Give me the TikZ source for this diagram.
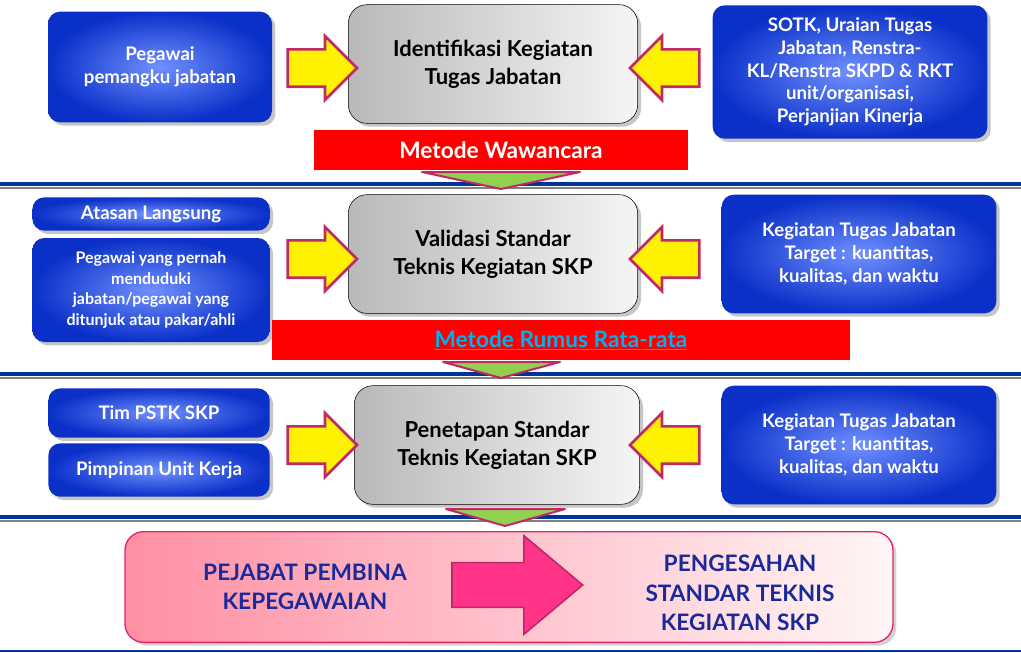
\documentclass[tikz,border=0pt]{standalone}
\usepackage{fontspec}
\setmainfont{Lato}
\usetikzlibrary{shapes.arrows,shadows}
\definecolor{bluedark}{HTML}{0A30C8}
\definecolor{bluelight}{HTML}{7090FF}
\definecolor{arrowrim}{HTML}{C02868}
\definecolor{lineblue}{HTML}{003399}
\definecolor{pinkrim}{HTML}{E8206B}
\definecolor{pinkfill}{HTML}{FF3388}
\definecolor{pinkleft}{HTML}{FF8FA3}
\definecolor{navytext}{HTML}{1A2A9A}
\definecolor{greentri}{HTML}{92D050}
\definecolor{linkcyan}{HTML}{00B0F0}
\tikzset{
  bluebox/.style={shading=radial, inner color=bluelight, outer color=bluedark, rounded corners=9pt,
    drop shadow={opacity=0.45}, text=white, font=\bfseries\fontsize{14}{17}\selectfont, align=center, inner sep=0pt},
  graybox/.style={draw=black, left color=gray!55, right color=gray!8, rounded corners=14pt,
    drop shadow={opacity=0.45}, font=\bfseries\fontsize{16.5}{21}\selectfont, align=center, inner sep=0pt},
  yarrow/.style={single arrow, fill=yellow, draw=arrowrim, line width=2pt, minimum height=52pt,
    minimum width=47pt, single arrow head extend=10pt, single arrow tip angle=90, inner xsep=0pt, inner ysep=13pt},
  redbar/.style={fill=red, text=white, font=\bfseries\fontsize{17}{20}\selectfont, inner sep=0pt},
  sepline/.style={lineblue, line width=2.5pt},
}
\begin{document}
\begin{tikzpicture}[x=0.75pt, y=-0.75pt]
  \useasboundingbox (0,0) rectangle (1021,653);

  % separators
  \foreach \yy in {184,374,517} {
    \draw[sepline] (0,\yy) -- (1021,\yy);
    \draw[gray, line width=1.2pt] (0,\yy+4) -- (1021,\yy+4);
  }
  \draw[sepline, line width=1.5pt] (0,651) -- (1021,651);

  % row 1
  \node[bluebox, minimum width=168pt, minimum height=83pt] (peg) at (160,67) {Pegawai\\pemangku jabatan};
  \node[graybox, minimum width=217pt, minimum height=89pt] (idk) at (493,64) {Identifikasi Kegiatan\\Tugas Jabatan};
  \node[bluebox, minimum width=206pt, minimum height=100pt] (sotk) at (850,72)
    {SOTK, Uraian Tugas\\Jabatan, Renstra-\\KL/Renstra SKPD \& RKT\\unit/organisasi,\\Perjanjian Kinerja};
  \node[yarrow] (ar1) at (313,68) {};
  \node[yarrow, shape border rotate=180] (al1) at (674,68) {};
  \node[redbar, minimum width=281pt, minimum height=30pt] (mw) at (501,150) {Metode Wawancara};
  \draw[arrowrim, fill=greentri, line width=1.5pt, line join=round] (422,172) -- (580,172) -- (501,189) -- cycle;

  % row 2
  \node[bluebox, minimum width=178pt, minimum height=25pt] (atl) at (151,214) {Atasan Langsung};
  \node[bluebox, minimum width=178pt, minimum height=78pt, font=\bfseries\fontsize{12}{15.5}\selectfont] (pyp) at (151,290)
    {Pegawai yang pernah\\menduduki\\jabatan/pegawai yang\\ditunjuk atau pakar/ahli};
  \node[graybox, minimum width=217pt, minimum height=89pt] (val) at (493,254) {Validasi Standar\\Teknis Kegiatan SKP};
  \node[bluebox, minimum width=206pt, minimum height=89pt] (kt2) at (859,254)
    {Kegiatan Tugas Jabatan\\Target : kuantitas,\\kualitas, dan waktu};
  \node[yarrow] (ar2) at (313,259) {};
  \node[yarrow, shape border rotate=180] (al2) at (674,259) {};
  \node[redbar, minimum width=433pt, minimum height=30pt, text=linkcyan] (mr) at (561,340) {\underline{Metode Rumus Rata-rata}};
  \draw[arrowrim, fill=greentri, line width=1.5pt, line join=round] (443,362) -- (560,362) -- (501,378) -- cycle;

  % row 3
  \node[bluebox, minimum width=166pt, minimum height=37pt] (tim) at (159,413) {Tim PSTK SKP};
  \node[bluebox, minimum width=166pt, minimum height=40pt] (pim) at (159,470) {Pimpinan Unit Kerja};
  \node[graybox, minimum width=214pt, minimum height=89pt] (pen) at (497,445) {Penetapan Standar\\Teknis Kegiatan SKP};
  \node[bluebox, minimum width=206pt, minimum height=89pt] (kt3) at (859,445)
    {Kegiatan Tugas Jabatan\\Target : kuantitas,\\kualitas, dan waktu};
  \node[yarrow] (ar3) at (313,445) {};
  \node[yarrow, shape border rotate=180] (al3) at (674,445) {};
  \draw[arrowrim, fill=greentri, line width=1.5pt, line join=round] (446,509) -- (565,509) -- (505,526) -- cycle;

  % bottom
  \node[draw=pinkrim, line width=1pt, left color=pinkleft, right color=pink!15, rounded corners=14pt,
    drop shadow={opacity=0.35}, minimum width=576pt, minimum height=83pt] (ppk) at (509,587) {};
  \node[text=navytext, font=\bfseries\fontsize{17}{22}\selectfont, align=center] (pj) at (305,587)
    {PEJABAT PEMBINA\\KEPEGAWAIAN};
  \node[single arrow, fill=pinkfill, draw=arrowrim, line width=1.2pt, minimum height=98pt, minimum width=74pt,
    single arrow head extend=20pt, single arrow tip angle=80, inner xsep=0pt, inner ysep=16pt] (pa) at (504,585) {};
  \node[text=navytext, font=\bfseries\fontsize{17}{22}\selectfont, align=center] (ps) at (740,593)
    {PENGESAHAN\\STANDAR TEKNIS\\KEGIATAN SKP};
\end{tikzpicture}
\end{document}
